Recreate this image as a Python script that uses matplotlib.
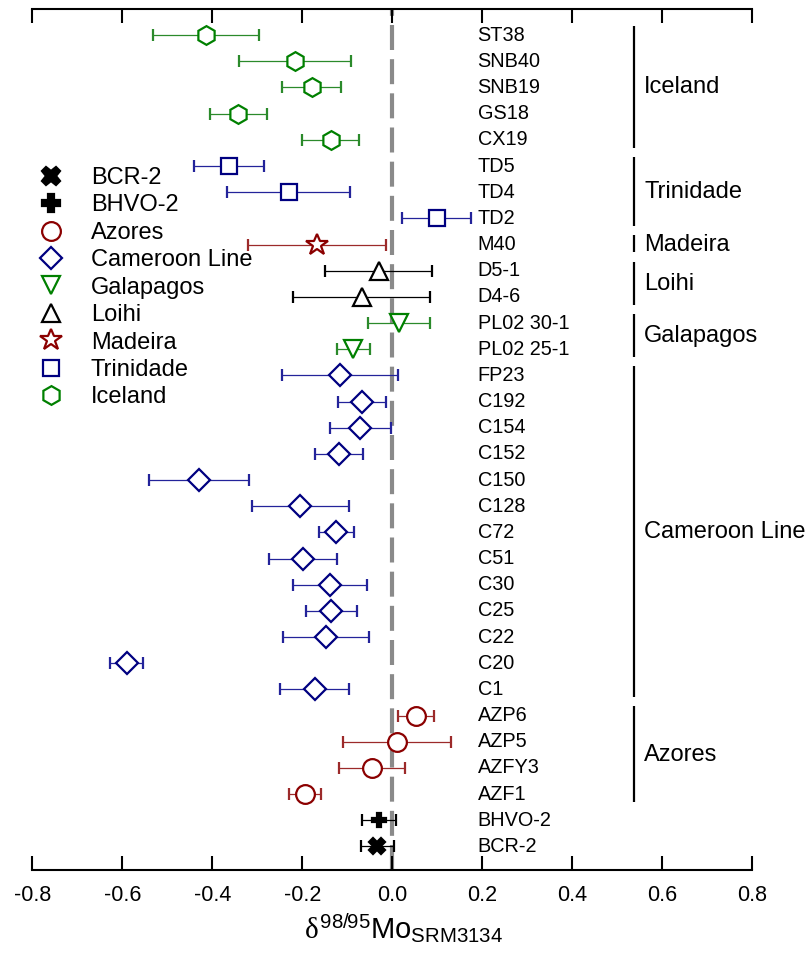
import matplotlib
matplotlib.use("Agg")
import matplotlib.pyplot as plt
from matplotlib.lines import Line2D

plt.rcParams['font.family'] = ['Liberation Sans', 'DejaVu Sans']
plt.rcParams['mathtext.fontset'] = 'custom'
plt.rcParams['mathtext.rm'] = 'Liberation Sans'
plt.rcParams['mathtext.it'] = 'Liberation Serif'

# ---- data ----
samples = ['ST38', 'SNB40', 'SNB19', 'GS18', 'CX19', 'TD5', 'TD4', 'TD2', 'M40',
           'D5-1', 'D4-6', 'PL02 30-1', 'PL02 25-1', 'FP23', 'C192', 'C154', 'C152',
           'C150', 'C128', 'C72', 'C51', 'C30', 'C25', 'C22', 'C20', 'C1',
           'AZP6', 'AZP5', 'AZFY3', 'AZF1', 'BHVO-2', 'BCR-2']
groups = (['Iceland'] * 5 + ['Trinidade'] * 3 + ['Madeira'] + ['Loihi'] * 2 +
          ['Galapagos'] * 2 + ['Cameroon Line'] * 13 + ['Azores'] * 4 +
          ['BHVO-2', 'BCR-2'])
delta_mo = [-0.414, -0.216, -0.179, -0.342, -0.137, -0.363, -0.230, 0.099, -0.167,
            -0.030, -0.068, 0.015, -0.086, -0.116, -0.067, -0.071, -0.118,
            -0.430, -0.204, -0.124, -0.198, -0.138, -0.135, -0.147, -0.590, -0.172,
            0.053, 0.010, -0.045, -0.194, -0.029, -0.033]
err_2sd = [0.117, 0.124, 0.065, 0.063, 0.064, 0.077, 0.137, 0.077, 0.153,
           0.119, 0.153, 0.069, 0.036, 0.130, 0.053, 0.068, 0.054,
           0.111, 0.107, 0.039, 0.076, 0.082, 0.056, 0.096, 0.037, 0.077,
           0.041, 0.120, 0.074, 0.036, 0.038, 0.036]

legend_order = ['BCR-2', 'BHVO-2', 'Azores', 'Cameroon Line', 'Galapagos',
                'Loihi', 'Madeira', 'Trinidade', 'Iceland']
bracket_groups = ['Iceland', 'Trinidade', 'Madeira', 'Loihi', 'Galapagos',
                  'Cameroon Line', 'Azores']
xticks = [-0.8, -0.6, -0.4, -0.2, 0.0, 0.2, 0.4, 0.6, 0.8]

# ---- styles ----
GREEN, NAVY, DRED, BLACK = '#008000', '#000080', '#8b0000', '#000000'
style = {
    'Iceland':       dict(marker='h', color=GREEN, ms=13.5, lms=13.5, mfc='white', ecol='#2b8a2b'),
    'Trinidade':     dict(marker='s', color=NAVY, ms=12.0, lms=12.0, mfc='white', ecol='#23239a'),
    'Madeira':       dict(marker='*', color=DRED, ms=16.5, lms=16.5, mfc='white', ecol='#9c2a2a'),
    'Loihi':         dict(marker='^', color=BLACK, ms=13, lms=13, mfc='white', ecol='#000000'),
    'Galapagos':     dict(marker='v', color=GREEN, ms=13, lms=13, mfc='white', ecol='#2b8a2b'),
    'Cameroon Line': dict(marker='D', color=NAVY, ms=11.5, lms=11.5, mfc='white', ecol='#23239a'),
    'Azores':        dict(marker='o', color=DRED, ms=13.5, lms=13.5, mfc='white', ecol='#9c2a2a'),
    'BHVO-2':        dict(marker='P', color=BLACK, ms=10, lms=12.5, mfc=BLACK, ecol='#000000'),
    'BCR-2':         dict(marker='X', color=BLACK, ms=12, lms=13.5, mfc=BLACK, ecol='#000000'),
}

fig = plt.figure(figsize=(8.08, 9.55), dpi=100)
ax = fig.add_axes([0.0400, 0.0890, 0.8907, 0.9016])

ax.axvline(0.0, color='#8a8a8a', lw=3.0, dashes=(6.0, 2.2), zorder=1)

for i, (s, g, v, e) in enumerate(zip(samples, groups, delta_mo, err_2sd)):
    st = style[g]
    ax.errorbar(v, i, xerr=e, fmt=st['marker'], ms=st['ms'], mfc=st['mfc'],
                mec=st['color'], mew=1.6, ecolor=st['ecol'], elinewidth=0.9,
                capsize=4.5, capthick=0.9, zorder=3)
    ax.text(0.19, i, s, fontsize=14.3, va='center', ha='left')

# group brackets and labels
for g in bracket_groups:
    rows = [i for i, gg in enumerate(groups) if gg == g]
    r0, r1 = min(rows), max(rows)
    ax.plot([0.538, 0.538], [r0 - 0.35, r1 + 0.3], color='black', lw=1.6,
            solid_capstyle='butt')
    ax.text(0.56, (r0 + r1) / 2, g, fontsize=17, va='center', ha='left')

ax.set_xlim(-0.8, 0.8)
ax.set_ylim(31.9, -1.0)
ax.set_xticks(xticks)
ax.set_xticklabels([f'{t:.1f}' for t in xticks], fontsize=15.5)
ax.set_yticks([])
for side in ('left', 'right'):
    ax.spines[side].set_visible(False)
for side in ('top', 'bottom'):
    ax.spines[side].set_linewidth(1.5)
ax.tick_params(axis='x', which='both', direction='in', top=True, bottom=True,
               length=10, width=1.5, pad=11)
ax.set_xlabel(r'$\delta^{\mathrm{98/95}}\mathrm{Mo}_{\mathrm{SRM3134}}$',
              fontsize=21, labelpad=2)
ax.xaxis.set_label_coords(0.515, -0.048)

handles = []
for g in legend_order:
    st = style[g]
    handles.append(Line2D([], [], linestyle='none', marker=st['marker'],
                          ms=st['lms'], mfc=st['mfc'], mec=st['color'],
                          mew=1.6, label=g))
fig.legend(handles=handles, loc='upper left',
           bbox_to_anchor=(39 / 808, 1 - 167 / 955), frameon=False,
           fontsize=17, borderpad=0, borderaxespad=0, handlelength=1.0,
           handletextpad=1.2, labelspacing=0.23)

fig.savefig('out.png', dpi=100)
